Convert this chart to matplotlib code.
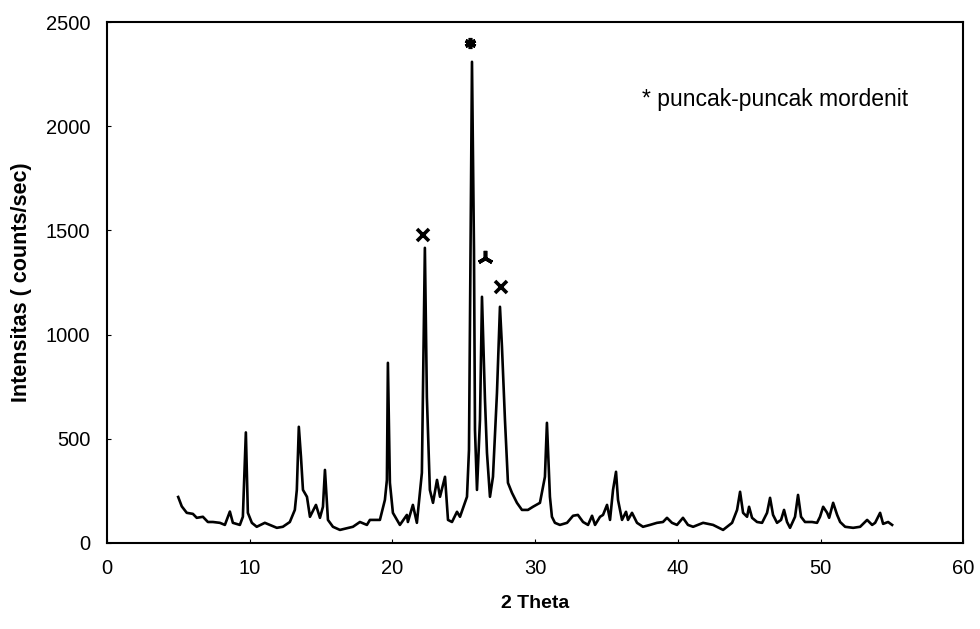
import matplotlib
matplotlib.use("Agg")
import matplotlib.pyplot as plt

# ===========================
# Data
# ===========================

two_theta = [
    5.0, 5.25, 5.6, 6.03, 6.3, 6.73, 7.08, 7.43, 7.92, 8.27, 8.62, 8.83, 9.32, 9.53,
    9.74, 9.88, 10.16, 10.5, 11.07, 11.42, 11.91, 12.33, 12.82, 13.17, 13.31, 13.45,
    13.6, 13.74, 14.02, 14.23, 14.65, 14.93, 15.14, 15.28, 15.49, 15.84, 16.33, 17.24,
    17.73, 18.22, 18.43, 19.13, 19.48, 19.62, 19.69, 19.83, 20.04, 20.53, 21.02, 21.09,
    21.44, 21.72, 22.07, 22.28, 22.42, 22.63, 22.85, 23.13, 23.34, 23.69, 23.9, 24.18,
    24.53, 24.74, 25.23, 25.37, 25.58, 25.72, 25.79, 25.93, 26.14, 26.28, 26.49, 26.63,
    26.84, 27.05, 27.33, 27.54, 27.68, 27.89, 28.1, 28.38, 28.73, 29.08, 29.5, 29.85,
    30.34, 30.69, 30.83, 31.04, 31.18, 31.39, 31.74, 32.24, 32.66, 33.0, 33.36, 33.71,
    33.99, 34.2, 34.55, 34.76, 35.04, 35.25, 35.46, 35.67, 35.81, 36.09, 36.37, 36.51,
    36.79, 37.14, 37.56, 38.05, 38.54, 38.96, 39.24, 39.59, 39.94, 40.36, 40.71, 41.07,
    41.77, 42.47, 43.17, 43.8, 44.15, 44.36, 44.57, 44.85, 44.99, 45.2, 45.55, 45.9,
    46.25, 46.46, 46.67, 46.95, 47.23, 47.44, 47.65, 47.86, 48.21, 48.42, 48.63, 48.91,
    49.4, 49.75, 49.96, 50.18, 50.46, 50.6, 50.88, 51.16, 51.37, 51.72, 52.28, 52.77,
    53.26, 53.61, 53.82, 54.17, 54.38, 54.73, 55.01,
]

intensity = [
    220, 175, 144, 139, 120, 125, 100, 100, 96, 86, 150, 96, 86, 125,
    530, 144, 96, 77, 96, 86, 72, 77, 100, 158, 254, 557,
    413, 254, 221, 125, 182, 120, 173, 350, 110, 77, 62, 77,
    100, 86, 110, 110, 206, 302, 864, 288, 144, 86, 134, 100,
    182, 96, 336, 1416, 700, 254, 192, 302, 221, 317, 110, 100,
    149, 125, 221, 446, 2309, 1406, 542, 254, 590, 1181, 686, 432,
    221, 317, 720, 1133, 941, 590, 288, 240, 192, 158, 158, 173,
    192, 317, 576, 221, 125, 96, 86, 96, 130, 134, 100, 86,
    130, 86, 125, 134, 182, 110, 254, 341, 206, 110, 149, 110,
    144, 96, 77, 86, 96, 100, 120, 96, 86, 120, 86, 77,
    96, 86, 62, 96, 158, 245, 144, 125, 173, 120, 100, 96,
    144, 216, 134, 96, 110, 158, 100, 72, 125, 230, 125, 100,
    100, 96, 125, 173, 144, 120, 192, 134, 100, 77, 72, 77,
    110, 86, 96, 144, 91, 100, 86,
]

# mordenite peaks marked in the figure
mark_x = [22.15, 25.45, 26.5, 27.6]
mark_y = [1478, 2400, 1368, 1229]
mark_sym = ['x', (6, 2, 0), (3, 2, 0), 'x']
mark_size = [8, 8, 11, 8]

plt.rcParams['font.family'] = ['Liberation Sans', 'DejaVu Sans']

fig = plt.figure(figsize=(9.8, 6.29), dpi=100)
ax = fig.add_axes([0.109, 0.137, 0.874, 0.828])

ax.plot(two_theta, intensity, color='black', linewidth=1.9)

for mx, my, ms, sz in zip(mark_x, mark_y, mark_sym, mark_size):
    ax.plot(mx, my, marker=ms, color='black', markersize=sz, markeredgewidth=2.6)

ax.text(37.5, 2130, '* puncak-puncak mordenit', fontsize=16.5, va='center', ha='left')

ax.set_xlim(0, 60)
ax.set_ylim(0, 2500)
ax.set_xticks([0, 10, 20, 30, 40, 50, 60])
ax.set_yticks([0, 500, 1000, 1500, 2000, 2500])
ax.tick_params(direction='in', length=3, labelsize=14.5, pad=12)

for s in ax.spines.values():
    s.set_linewidth(1.5)

ax.set_xlabel('2 Theta', fontsize=14, fontweight='bold', labelpad=12)
ax.set_ylabel('Intensitas ( counts/sec)', fontsize=15.5, fontweight='bold', labelpad=10)

fig.savefig('out.png', dpi=100)
